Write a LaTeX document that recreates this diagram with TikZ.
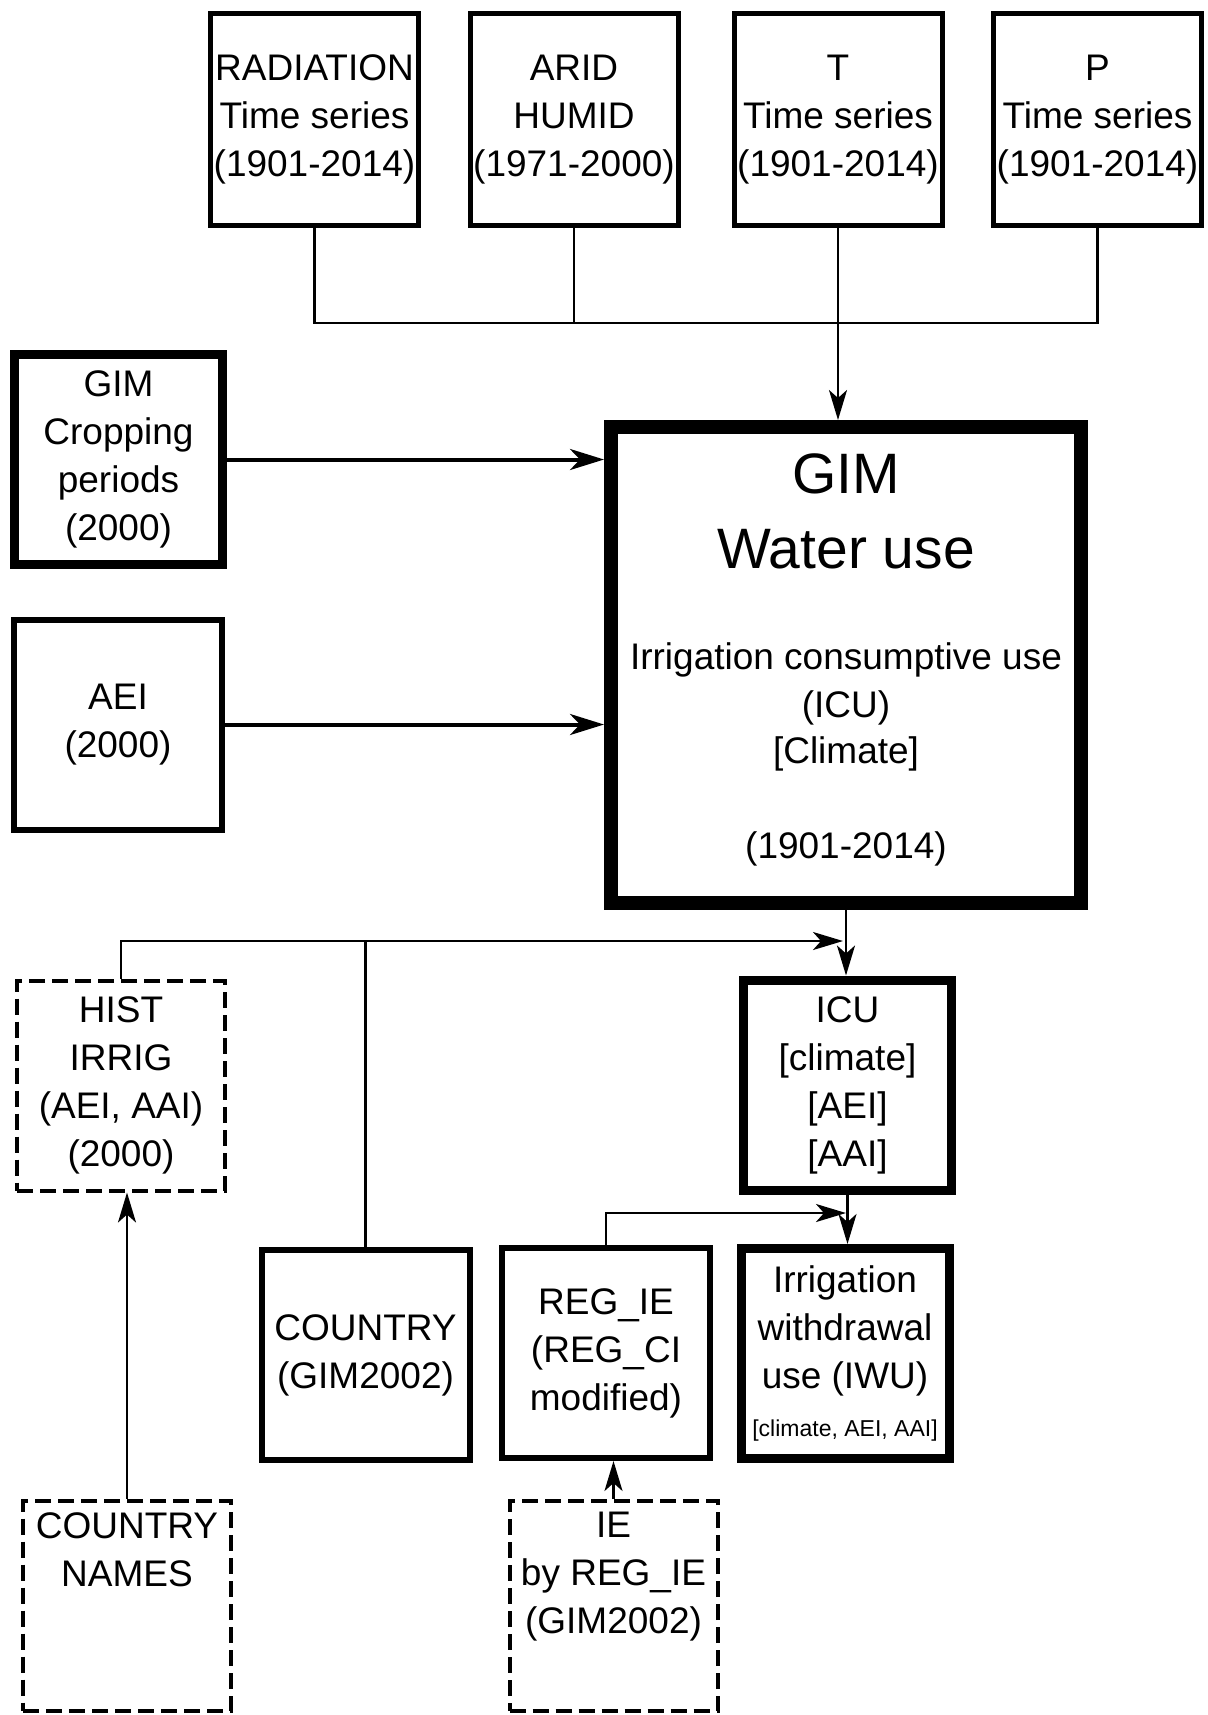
\documentclass[tikz,border=0pt]{standalone}
\usepackage{fontspec}
\setmainfont{Liberation Sans}
\usetikzlibrary{arrows.meta}
\newcommand{\clrline}{black}
\newcommand{\boxfont}{\fontsize{18.5}{24}\selectfont}
\newcommand{\titlefont}{\fontsize{28.5}{37.5}\selectfont}
\newcommand{\notefont}{\fontsize{11.5}{14}\selectfont}

\begin{document}
\begin{tikzpicture}[x=0.5pt, y=-0.5pt,
    databox/.style={draw=\clrline, minimum width=104pt, minimum height=105pt,
        inner sep=0pt, align=center, font=\boxfont},
    thinbox/.style={databox, line width=2.5pt, minimum height=106pt},
    plainbox/.style={databox, line width=3pt},
    boldbox/.style={databox, line width=4.5pt},
    dashbox/.style={databox, line width=2pt, dash pattern=on 8pt off 3.5pt},
    gimbox/.style={draw=\clrline, line width=7pt, minimum width=235pt, minimum height=238pt},
    gimtext/.style={anchor=base, inner sep=0pt, font=\boxfont},
    link/.style={draw=\clrline, line width=1.3pt},
    linkarrow/.style={link, -{Stealth[length=15pt, width=9pt, inset=4pt]}},
    bigarrow/.style={draw=\clrline, line width=2pt, -{Stealth[length=17pt, width=10.5pt, inset=5pt]}}]
    \useasboundingbox (0,0) rectangle (1207,1715);

    % input time series
    \node[thinbox] (rad)  at (314.5,119.5) {RADIATION\\Time series\\(1901-2014)};
    \node[thinbox] (arid) at (574,119.5)   {ARID\\HUMID\\(1971-2000)};
    \node[thinbox] (t)    at (838,119.5)   {T\\Time series\\(1901-2014)};
    \node[thinbox] (p)    at (1097.5,119.5) {P\\Time series\\(1901-2014)};

    % left inputs
    \node[boldbox]  (crop) at (118.5,459.5) {GIM\\Cropping\\periods\\(2000)};
    \node[plainbox] (aei)  at (118,724.5)   {AEI\\(2000)};

    % model box
    \node[gimbox] (gim) at (846,665) {};
    \node[gimtext, font=\titlefont] (gimA) at (846,493) {GIM};
    \node[gimtext, font=\titlefont] (gimB) at (846,568) {Water use};
    \node[gimtext] (gimC) at (846,669) {Irrigation consumptive use};
    \node[gimtext] (gimD) at (846,717) {(ICU)};
    \node[gimtext] (gimE) at (846,763) {[Climate]};
    \node[gimtext] (gimF) at (846,858) {(1901-2014)};

    % outputs and lower inputs
    \node[dashbox]  (hist)    at (121,1085.5)  {HIST\\IRRIG\\(AEI, AAI)\\(2000)};
    \node[boldbox]  (icu)     at (847.5,1085)  {ICU\\{[climate]}\\{[AEI]}\\{[AAI]}};
    \node[plainbox] (country) at (365.5,1355)  {COUNTRY\\(GIM2002)};
    \node[plainbox] (regie)   at (606,1353)    {REG\_IE\\(REG\_CI\\modified)};
    \node[boldbox]  (iwu)     at (845,1353.5)
        {Irrigation\\withdrawal\\use (IWU)\\{\notefont [climate, AEI, AAI]}};
    \node[dashbox] (cnames) at (127,1605.5) {};
    \node[dashbox] (ie)     at (613.5,1606) {};
    \node[gimtext, anchor=north, align=center] (cnamestxt) at (127,1512) {COUNTRY\\NAMES};
    \node[gimtext, anchor=north, align=center] (ietxt) at (613.5,1512) {IE\\by REG\_IE\\(GIM2002)};

    % connectors
    \coordinate (topbus) at (0,323);
    \coordinate (bus1) at (843,941);
    \coordinate (bus2) at (846,1213);
    \draw[link] (rad.south) |- (p.south |- topbus) -- (p.south);
    \draw[link] (arid.south) -- (arid.south |- topbus);
    \draw[linkarrow] (t.south) -- (t.south |- gim.north);
    \draw[bigarrow] (crop) -- (crop -| gim.west);
    \draw[bigarrow] (aei) -- (aei -| gim.west);
    \draw[linkarrow] (hist.north) |- (bus1);
    \draw[link] (country.north) -- (country.north |- bus1);
    \draw[linkarrow] (gim.south) -- (gim.south |- icu.north);
    \draw[linkarrow] (regie.north) |- (bus2);
    \draw[linkarrow] (icu.south) -- (icu.south |- iwu.north);
    \draw[linkarrow] (cnames.north) -- (cnames.north |- hist.south);
    \draw[linkarrow] (ie.north) -- (ie.north |- regie.south);
\end{tikzpicture}
\end{document}
